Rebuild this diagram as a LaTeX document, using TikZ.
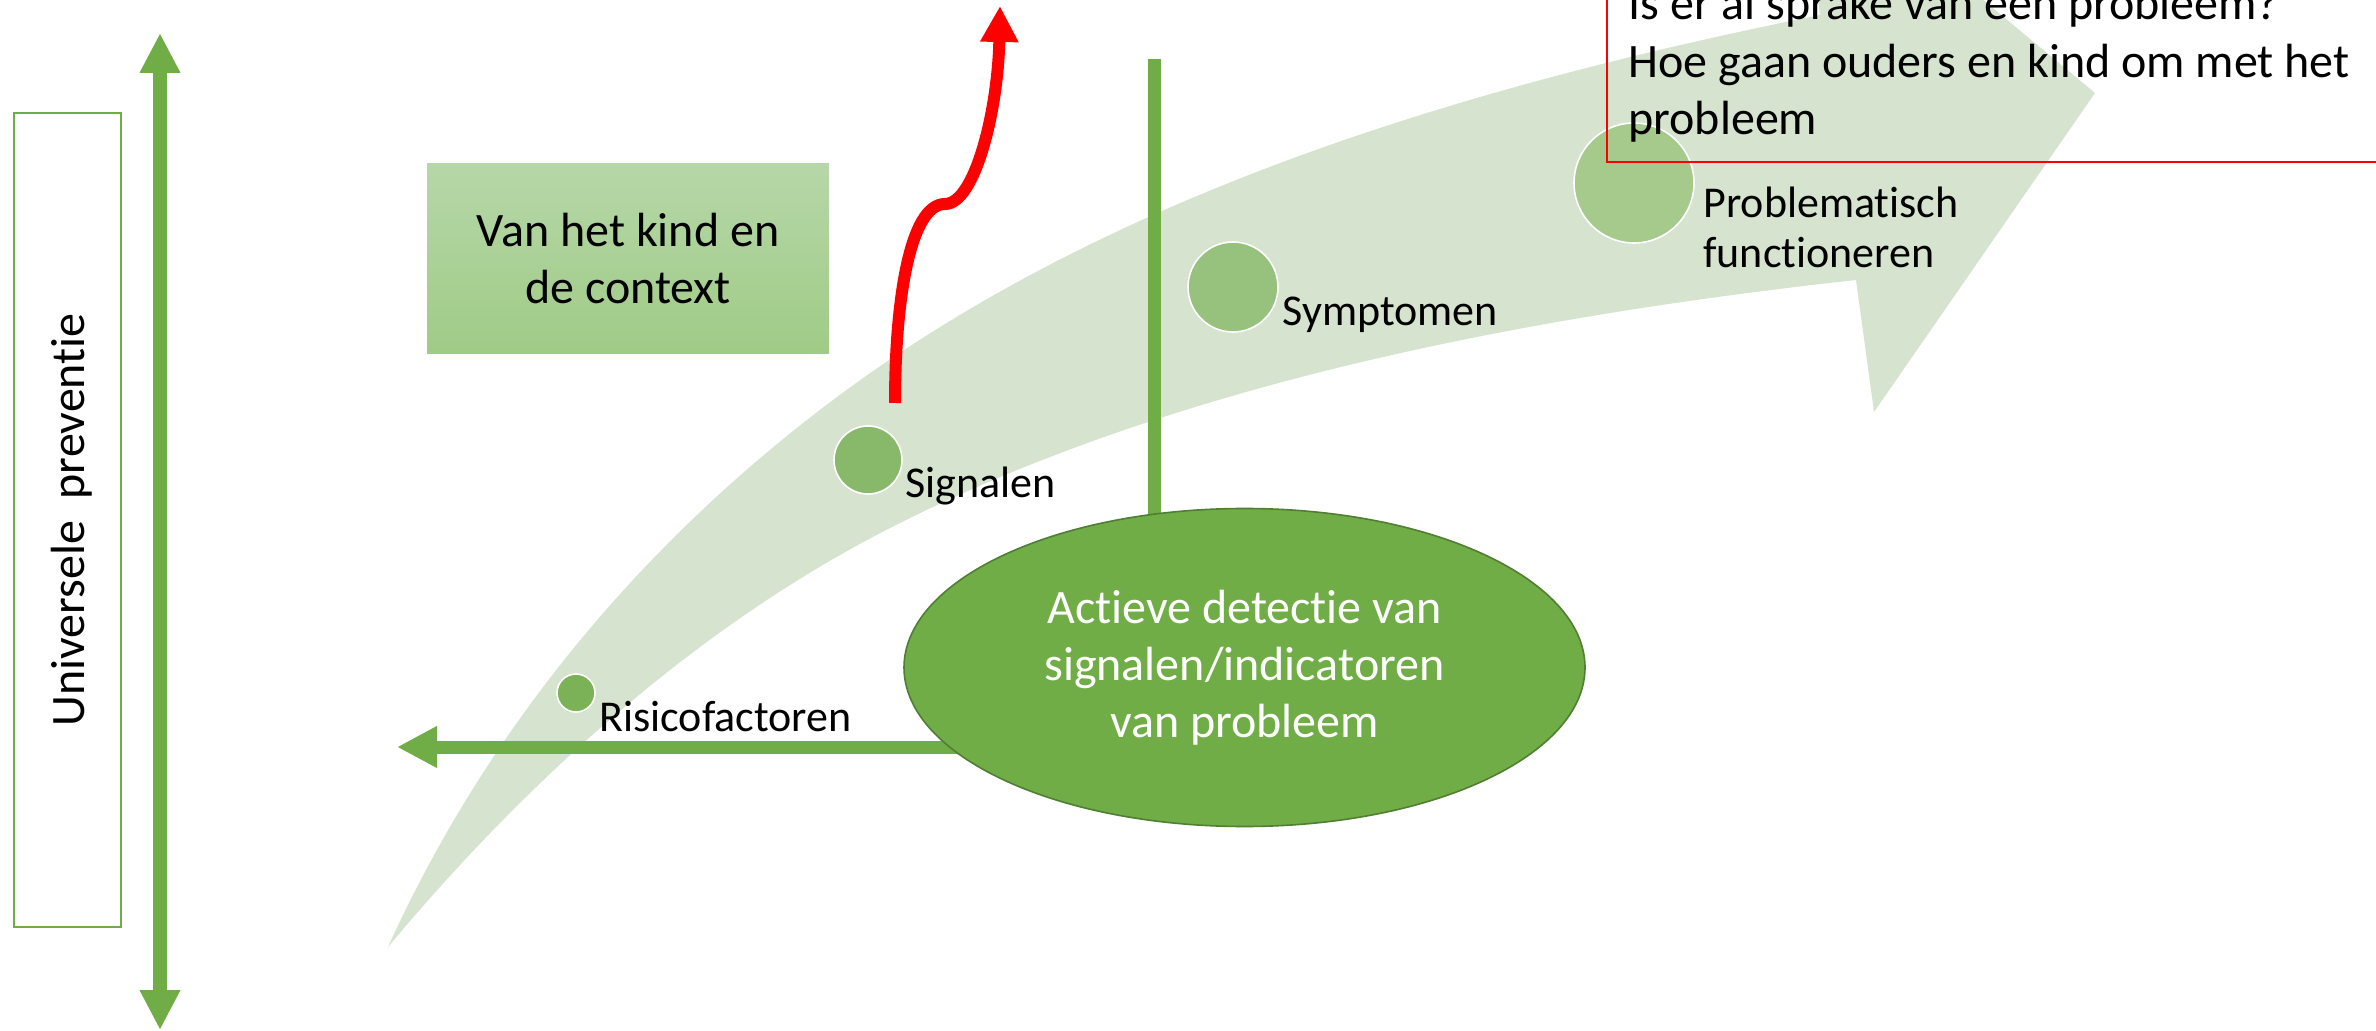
\documentclass[tikz,border=0pt]{standalone}
\usepackage{fontspec}
\setmainfont{Carlito}[Ligatures={NoCommon,NoContextual}]
\usetikzlibrary{arrows.meta,shapes.geometric}
\definecolor{gr}{HTML}{70AD47}
\definecolor{grdark}{HTML}{507E32}
\definecolor{bigarrow}{HTML}{D6E3CE}
\definecolor{dotA}{HTML}{7BB257}
\definecolor{dotB}{HTML}{88B96A}
\definecolor{dotC}{HTML}{97C27E}
\definecolor{dotD}{HTML}{A5CA8C}
\definecolor{ctxtop}{HTML}{B6D7A8}
\definecolor{ctxbot}{HTML}{9FCB86}
\begin{document}
\begin{tikzpicture}[x=0.5pt,y=-0.5pt,
  lbl/.style={font=\fontsize{22}{25}\selectfont, inner sep=0pt, anchor=base west},
  bigtxt/.style={font=\fontsize{24}{28.5}\selectfont, inner sep=0pt},
  dot/.style={circle, draw=white, line width=0.8pt, inner sep=0pt},
  thickgreen/.style={draw=gr, line width=6.5pt},
  gtip/.style={-{Triangle[length=20pt,width=19.5pt]}}
]
\useasboundingbox (0,0) rectangle (2376,1031);
\clip (0,0) rectangle (2376,1031);

% big curved background arrow
\fill[bigarrow] (388,947)
  .. controls (529,778) and (703,621) .. (900,523)
  .. controls (1186,380) and (1538,315) .. (1856,280)
  -- (1874,412) -- (2095,93) -- (1797,-155) -- (1820,15)
  .. controls (1477,84) and (1113,190) .. (833,400)
  .. controls (641,544) and (487,729) .. (388,947) -- cycle;

% left box and text
\node[draw=gr, line width=1pt, minimum width=53.5pt, minimum height=407pt, inner sep=0pt] (uprect) at (67.5,520) {};
\node[bigtxt, rotate=90] (univ) at (72,520) {Universele\ \ preventie};

% vertical double arrow
\coordinate (vtop) at (160,33);
\coordinate (vbot) at (160,1030);
\draw[thickgreen, line width=7pt, {Triangle[length=20pt,width=19pt]}-{Triangle[length=20pt,width=19pt]}] (vbot) -- (vtop);

% context box
\node[shade, top color=ctxtop, bottom color=ctxbot, minimum width=201pt, minimum height=95pt, inner sep=0pt, bigtxt, align=center] (ctx) at (628,259) {Van het kind en\\de context};

% vertical line and horizontal arrow (behind ellipse)
\coordinate (vl1) at (1154,59);
\coordinate (vl2) at (1154,650);
\draw[thickgreen] (vl1) -- (vl2);
\coordinate (ha1) at (1000,747);
\coordinate (ha2) at (397,747);
\draw[thickgreen, gtip] (ha1) -- (ha2);

% ellipse
\node[ellipse, fill=gr, draw=grdark, line width=0.8pt, minimum width=340.5pt, minimum height=159pt, inner sep=0pt, text=white, align=center, bigtxt] (det) at (1244.5,667.5) {Actieve detectie van\\signalen/indicatoren\\van probleem};

% dots and labels
\node[dot, fill=dotA, minimum size=19pt] (d1) at (576,693) {};
\node[dot, fill=dotB, minimum size=34pt] (d2) at (868,460) {};
\node[dot, fill=dotC, minimum size=45pt] (d3) at (1233,287) {};
\node[dot, fill=dotD, minimum size=60pt] (d4) at (1634,183) {};
\node[lbl] (l1) at (599,731) {Risicofactoren};
\node[lbl] (l2) at (905,498) {Signalen};
\node[lbl] (l3) at (1282,326) {Symptomen};
\node[lbl] (l4a) at (1703,218) {Problematisch};
\node[lbl] (l4b) at (1703,268) {functioneren};

% red arrow
\coordinate (ra1) at (895,403);
\coordinate (rak) at (945,204);
\coordinate (ra2) at (1000,6);
\draw[red, line width=6pt, -{Triangle[length=18pt,width=18pt]}] (ra1) .. controls (895,300) and (910,204) .. (rak) .. controls (975,204) and (998,110) .. (ra2);

% red box
\draw[red, line width=0.75pt] (1607,-20) rectangle (2420,162);
\node[bigtxt, anchor=base west] (q1) at (1628,20) {Is er al sprake van een probleem?};
\node[bigtxt, anchor=base west] (q2) at (1628,78) {Hoe gaan ouders en kind om met het};
\node[bigtxt, anchor=base west] (q3) at (1628,135) {probleem};
\end{tikzpicture}
\end{document}
